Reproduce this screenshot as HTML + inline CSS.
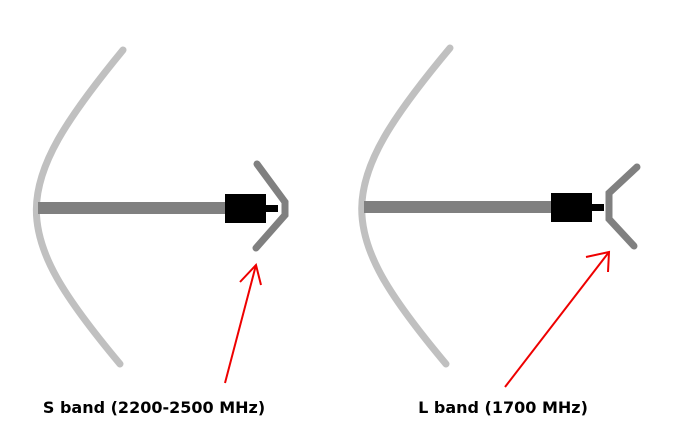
<!DOCTYPE html>
<html><head><meta charset="utf-8"><style>
html,body{margin:0;padding:0;background:#fff;width:698px;height:443px;overflow:hidden}
svg{display:block}
text{font-family:"DejaVu Sans","Liberation Sans",sans-serif;font-weight:bold;font-size:16px}
</style></head><body>
<svg width="698" height="443" viewBox="0 0 698 443">
<g>
<path d="M123,50 C8,190 8,230 120,364" fill="none" stroke="#c0c0c0" stroke-width="7" stroke-linecap="round"/>
<line x1="38" y1="208" x2="226" y2="208" stroke="#808080" stroke-width="12"/>
<rect x="225" y="194" width="41" height="29" fill="#000"/>
<rect x="265" y="205" width="13" height="7" fill="#000"/>
<polyline points="257,164 285,202 285,215 256,248" fill="none" stroke="#808080" stroke-width="7" stroke-linecap="round" stroke-linejoin="miter"/>
<g stroke="#ee0000" stroke-width="2" fill="none">
<line x1="225" y1="383" x2="256" y2="265"/>
<polyline points="240,282 256,265 261,285"/>
</g>
<text x="154" y="413" text-anchor="middle">S band (2200-2500 MHz)</text>
</g>
<g>
<path d="M450,48 C333,188 333,229 446,364" fill="none" stroke="#c0c0c0" stroke-width="7" stroke-linecap="round"/>
<line x1="364" y1="207" x2="552" y2="207" stroke="#808080" stroke-width="12"/>
<rect x="551" y="193" width="41" height="29" fill="#000"/>
<rect x="591" y="204" width="13" height="7" fill="#000"/>
<polyline points="637,167 609,193 609,219 634,246" fill="none" stroke="#808080" stroke-width="7" stroke-linecap="round"/>
<g stroke="#ee0000" stroke-width="2" fill="none">
<line x1="505" y1="387" x2="609" y2="252"/>
<polyline points="586,257 609,252 608,272"/>
</g>
<text x="503" y="413" text-anchor="middle">L band (1700 MHz)</text>
</g>
</svg>
</body></html>
